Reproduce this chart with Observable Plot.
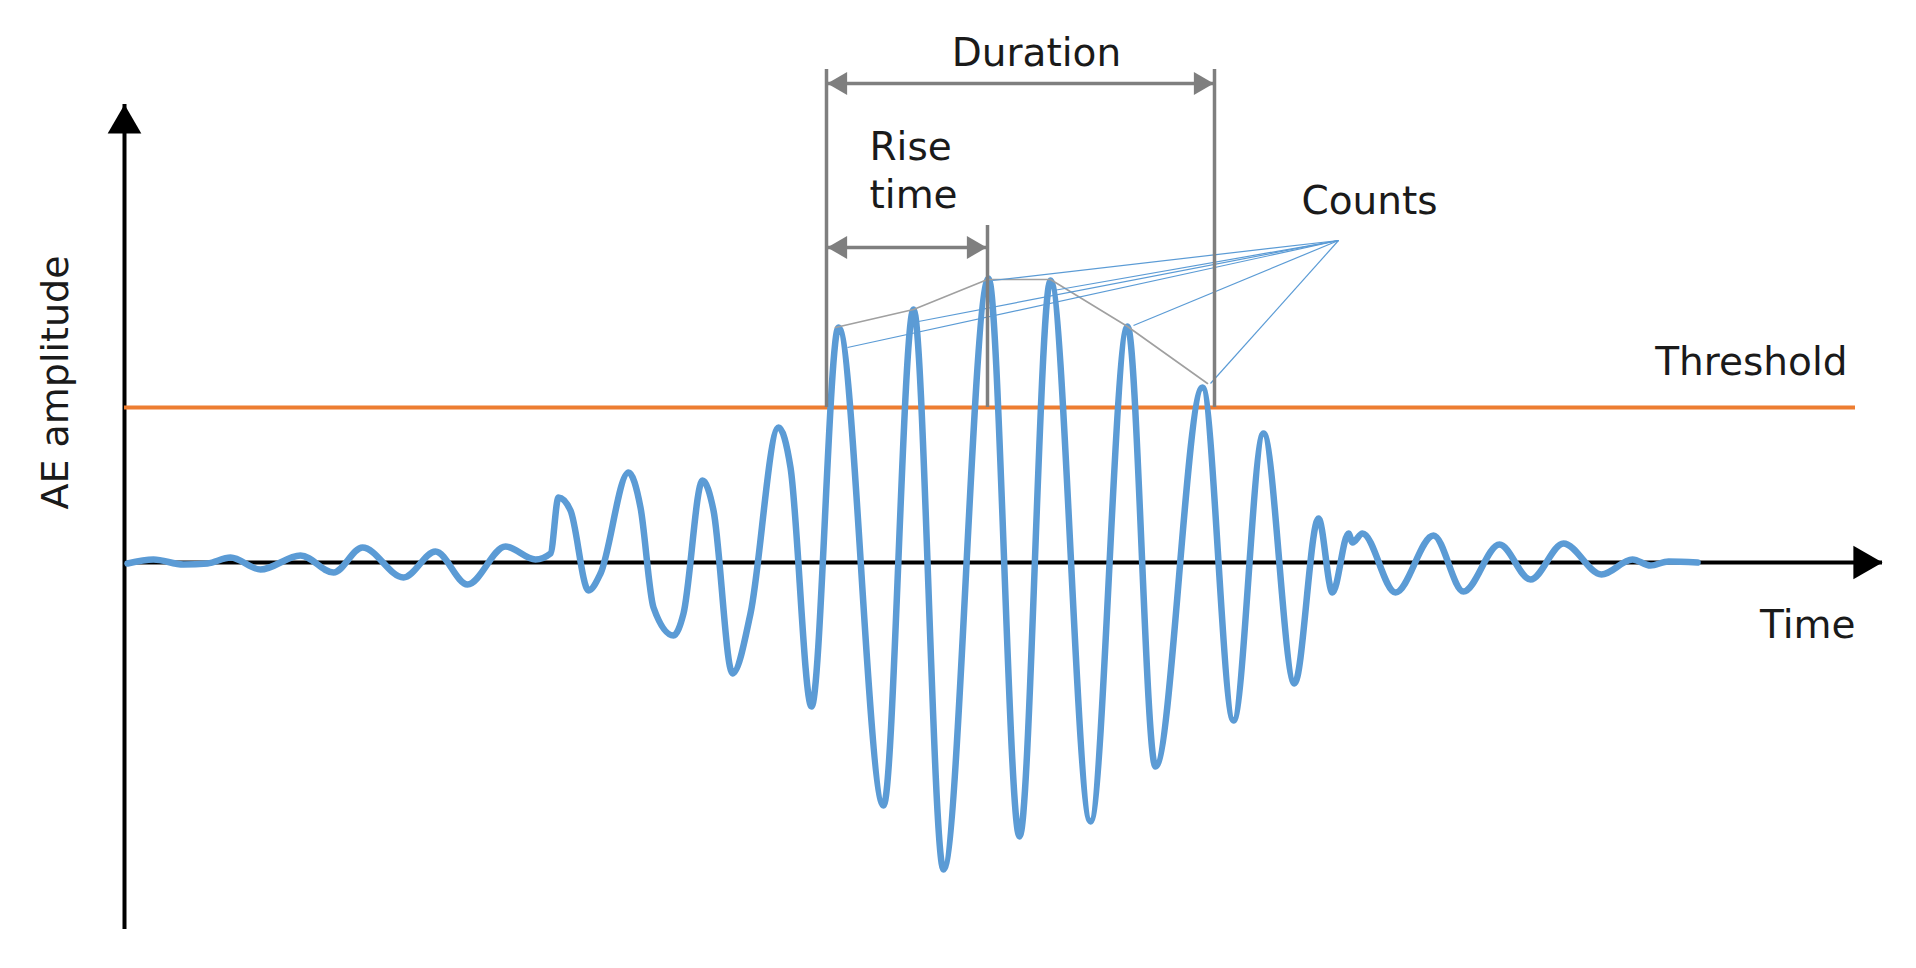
<!DOCTYPE html>
<html><head><meta charset="utf-8">
<script src="https://cdn.jsdelivr.net/npm/d3@7"></script>
<script src="https://cdn.jsdelivr.net/npm/@observablehq/plot@0.6"></script>
<style>html,body{margin:0;padding:0;background:#fff;} #chart svg{display:block;}</style>
</head><body><div id="chart"></div>
<script>
// ---- Data (arbitrary time units / amplitude units) ----
const signalTime = [0.3,2.9,5.9,8.3,10.6,13.6,17.6,20.9,23.8,27.9,31.1,34.3,38.1,41.1,42.6,43.4,44.6,46.4,47.6,50.4,51.6,52.9,54.9,55.9,57.8,58.9,60.8,62.6,65.4,66.6,68.7,71.4,75.9,78.9,81.9,86.4,89.5,92.6,96.6,100.3,103.1,107.8,110.9,113.9,117.0,119.4,120.8,122.4,122.8,123.8,127.1,130.9,133.9,137.5,140.6,143.9,147.7,150.8,152.6,154.4,157.3];
const signalAmp  = [-0.1,0.3,-0.2,-0.1,0.5,-0.7,0.7,-1.0,1.5,-1.5,1.1,-2.2,1.6,0.3,0.9,6.5,5.2,-2.8,-1.1,9.0,5.5,-4.5,-7.3,-5.1,8.2,5.2,-11.1,-5.1,13.5,9.5,-14.4,23.5,-24.3,25.3,-30.7,28.4,-27.4,28.2,-25.9,23.6,-20.4,17.5,-15.8,12.9,-12.1,4.4,-3.0,2.9,2.0,2.9,-3.0,2.7,-2.9,1.8,-1.7,1.9,-1.2,0.3,-0.3,0.1,0];

const threshold = 15.5;
const thresholdEnd = 173.1;
const xAxisEnd = 175.8;
const yAxisTop = 45.8;
const yAxisBottom = -36.7;

// envelope through counted peaks
const envelopeTime = [71.1,78.9,86.3,92.6,100.3,108.3];
const envelopeAmp  = [23.5,25.3,28.3,28.3,23.6,17.9];

// counts annotation
const countsFocus = {t: 121.4, a: 32.2};
const countTipTime = [72.3,79.4,86.8,92.9,100.9,108.6];
const countTipAmp  = [21.5,24.1,28.2,27.2,23.7,17.9];

// duration / rise time markers
const firstCrossing = 70.2;
const peakTimeMark = 86.3;
const lastCrossing = 109.0;
const durationLineTop = 49.3;
const durationArrowAmp = 47.9;
const riseLineTop = 33.7;
const riseArrowAmp = 31.5;

// labels
const centerLabels = [{s: "Duration", t: 91.2, a: 51.2}, {s: "Counts", t: 124.5, a: 36.35}];
const startLabels  = [{s: "Rise\ntime", t: 74.5, a: 39.35}];
const endLabels    = [{s: "Threshold", t: 172.3, a: 20.25}, {s: "Time", t: 173.1, a: -6.05}];
const yLabel = {text: "AE amplitude", t: -6.9, a: 18.0};

// ---- Build tables ----
const signal = signalTime.map((t,i)=>({t, a: signalAmp[i]}));
const envelope = envelopeTime.map((t,i)=>({t, a: envelopeAmp[i]}));
const countLinks = countTipTime.map((t,i)=>({t1: countsFocus.t, a1: countsFocus.a, t2: t, a2: countTipAmp[i]}));

const black = "#000", gray = "#7f7f7f", blue = "#5B9BD5", orange = "#ED7D31", textColor = "#1a1a1a";
const font = "DejaVu Sans";
const txt = {x: "t", y: "a", text: "s", fontSize: 39, lineHeight: 1.23, fill: textColor, fontFamily: font};

const chart = Plot.plot({
  width: 1916, height: 968, margin: 0,
  x: {domain: [-12.4, 179.2], axis: null},
  y: {domain: [-40.6, 56.2], axis: null},
  style: {background: "#fff", fontFamily: font},
  marks: [
    // axes
    Plot.ruleX([0], {y1: yAxisBottom, y2: yAxisTop, stroke: black, strokeWidth: 4}),
    Plot.ruleY([0], {x1: 0, x2: xAxisEnd, stroke: black, strokeWidth: 4}),
    Plot.dot([{t: 0, a: yAxisTop}], {x: "t", y: "a", symbol: "triangle", r: 12.5, fill: black, stroke: "none", dy: 19.4}),
    Plot.dot([{t: xAxisEnd, a: 0}], {x: "t", y: "a", symbol: "triangle", r: 12.5, fill: black, stroke: "none", rotate: 90, dx: -19.4}),
    // threshold
    Plot.ruleY([threshold], {x1: 0, x2: thresholdEnd, stroke: orange, strokeWidth: 4}),
    // waveform
    Plot.line(signal, {x: "t", y: "a", curve: "monotone-x", stroke: blue, strokeWidth: 6.5, strokeLinejoin: "round", strokeLinecap: "round"}),
    // envelope and counts links
    Plot.line(envelope, {x: "t", y: "a", stroke: "#a0a0a0", strokeWidth: 1.6}),
    Plot.link(countLinks, {x1: "t1", y1: "a1", x2: "t2", y2: "a2", stroke: blue, strokeWidth: 1.2}),
    // duration / rise time markers
    Plot.ruleX([firstCrossing, lastCrossing], {y1: threshold, y2: durationLineTop, stroke: gray, strokeWidth: 3.5}),
    Plot.ruleX([peakTimeMark], {y1: threshold, y2: riseLineTop, stroke: gray, strokeWidth: 3.5}),
    Plot.ruleY([durationArrowAmp], {x1: firstCrossing, x2: lastCrossing, stroke: gray, strokeWidth: 3.5}),
    Plot.ruleY([riseArrowAmp], {x1: firstCrossing, x2: peakTimeMark, stroke: gray, strokeWidth: 3.5}),
    Plot.dot([{t: firstCrossing, a: durationArrowAmp}, {t: firstCrossing, a: riseArrowAmp}], {x: "t", y: "a", symbol: "triangle", r: 8.5, fill: gray, stroke: "none", rotate: -90, dx: 14}),
    Plot.dot([{t: lastCrossing, a: durationArrowAmp}, {t: peakTimeMark, a: riseArrowAmp}], {x: "t", y: "a", symbol: "triangle", r: 8.5, fill: gray, stroke: "none", rotate: 90, dx: -14}),
    // labels
    Plot.text(centerLabels, {...txt, textAnchor: "middle"}),
    Plot.text(startLabels, {...txt, textAnchor: "start"}),
    Plot.text(endLabels, {...txt, textAnchor: "end"}),
    Plot.text([yLabel], {x: "t", y: "a", text: "text", rotate: -90, fontSize: 38, fill: textColor, fontFamily: font})
  ]
});
document.getElementById("chart").append(chart);
</script>
</body></html>
